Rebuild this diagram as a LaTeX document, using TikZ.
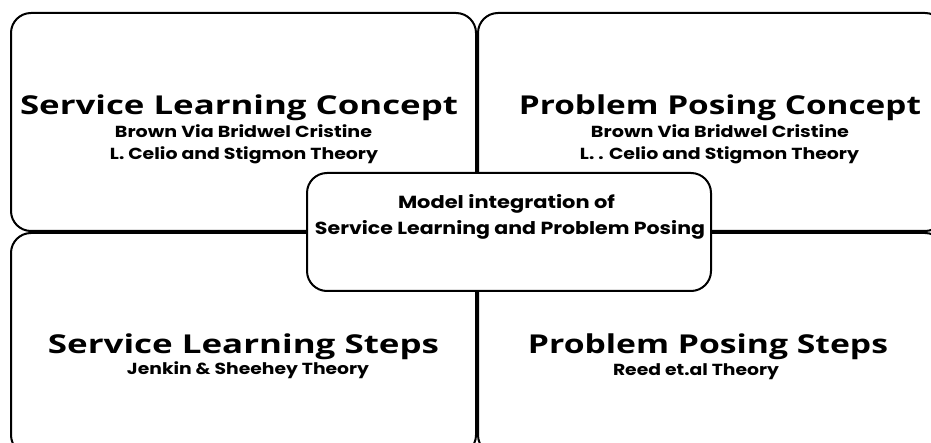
\documentclass[tikz,border=0pt]{standalone}
\usepackage{fontspec}
\usepackage{graphicx}
\newfontfamily\ttlfont{Open Sans}
\newfontfamily\subfont{Poppins}
\tikzset{
  quad/.style={draw=black, line width=2pt, rounded corners=20pt, rectangle, inner sep=0pt},
  ctr/.style={draw=black, fill=white, line width=2pt, rounded corners=20pt, rectangle, inner sep=0pt},
  ttl/.style={anchor=base, inner sep=0pt, font=\ttlfont\bfseries\fontsize{26pt}{26pt}\selectfont},
  sub/.style={anchor=base, inner sep=0pt, font=\subfont\bfseries\fontsize{16pt}{16pt}\selectfont},
  csub/.style={anchor=base, inner sep=0pt, font=\subfont\bfseries\fontsize{17.5pt}{17.5pt}\selectfont}
}
\newcommand{\fw}[2]{\resizebox{#1pt}{\height}{#2}}
\begin{document}
\begin{tikzpicture}[x=1pt,y=-1pt]
\useasboundingbox (0,0) rectangle (931,443);
\clip (0,0) rectangle (931,443);
\fill[white] (0,0) rectangle (931,443);
% quadrants
\node[quad, minimum width=465pt, minimum height=218pt] (tl) at (243.5,122) {};
\node[quad, minimum width=467pt, minimum height=218pt] (tr) at (711.5,122) {};
\node[quad, minimum width=465pt, minimum height=222pt] (bl) at (243.5,344) {};
\node[quad, minimum width=467pt, minimum height=222pt] (br) at (711.5,344) {};
% center
\node[ctr, minimum width=404pt, minimum height=118pt] (c) at (509,232) {};
% texts
\node[ttl] (tlt) at (239,115) {\fw{438}{Service Learning Concept}};
\node[sub] (tls1) at (243.5,138) {\fw{257}{Brown Via Bridwel Cristine}};
\node[sub] (tls2) at (244,160) {\fw{268}{L. Celio and Stigmon Theory}};
\node[ttl] (trt) at (720,115) {\fw{402}{Problem Posing Concept}};
\node[sub] (trs1) at (720,138) {\fw{258}{Brown Via Bridwel Cristine}};
\node[sub] (trs2) at (719.5,160) {\fw{279}{L. . Celio and Stigmon Theory}};
\node[csub] (c1) at (506.5,209) {\fw{217}{Model integration of}};
\node[csub] (c2) at (510,235) {\fw{390}{Service Learning and Problem Posing}};
\node[ttl] (blt) at (243.5,353) {\fw{391}{Service Learning Steps}};
\node[sub] (bls) at (248,374) {\fw{242}{Jenkin \& Sheehey Theory}};
\node[ttl] (brt) at (708,353) {\fw{360}{Problem Posing Steps}};
\node[sub] (brs) at (696,375) {\fw{166}{Reed et.al Theory}};
\end{tikzpicture}
\end{document}
